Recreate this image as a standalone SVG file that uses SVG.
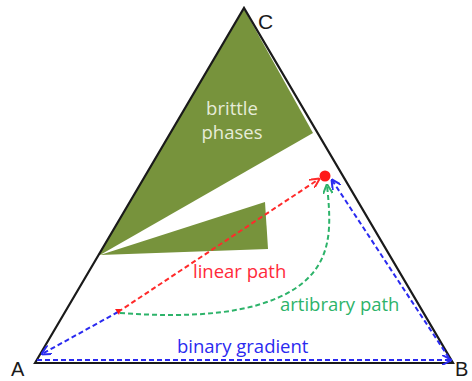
<svg xmlns="http://www.w3.org/2000/svg" width="472" height="381" viewBox="0 0 472 381">
<style>
.lbl{font-family:"Open Sans","Noto Sans","Liberation Sans",sans-serif;font-size:18.5px}
.corner{font-family:"Liberation Sans",Arial,sans-serif;font-size:20px;fill:#1a1a1a}
.ph{fill:#77933C}
.dash{fill:none;stroke-width:2;stroke-dasharray:5,3}
</style>
<defs>
<marker id="ar" viewBox="0 0 10 10" refX="9" refY="5" markerWidth="5" markerHeight="5" orient="auto"><path d="M0,0 L10,5 L0,10" fill="none" stroke="#FF2A2A" stroke-width="2"/></marker>
<marker id="ab" viewBox="0 0 10 10" refX="9" refY="5" markerWidth="5" markerHeight="5" orient="auto"><path d="M0,0 L10,5 L0,10" fill="none" stroke="#2A2AF0" stroke-width="2"/></marker>
<marker id="ag" viewBox="0 0 10 10" refX="9" refY="5" markerWidth="5" markerHeight="5" orient="auto"><path d="M0,0 L10,5 L0,10" fill="none" stroke="#2DB36A" stroke-width="2"/></marker>
</defs>
<g id="phases">
<polygon class="ph" points="244,9 313,133 100,255 98,255"/>
<polygon class="ph" points="100,255 265,202 268,249"/>
<text class="lbl" x="232" y="115" text-anchor="middle" fill="#E6ECD8">brittle</text>
<text class="lbl" x="232" y="139" text-anchor="middle" fill="#E6ECD8">phases</text>
</g>
<g id="triangle">
<path d="M35,363 L244,8 L453,363 Z" fill="none" stroke="#1a1a1a" stroke-width="2.2" stroke-linejoin="miter"/>
</g>
<g id="corner-A"><text class="corner" x="11" y="376">A</text></g>
<g id="corner-B"><text class="corner" x="455" y="376">B</text></g>
<g id="corner-C"><text class="corner" x="258" y="29" style="font-size:21px">C</text></g>
<g id="target"><circle cx="325" cy="176" r="5.5" fill="#FF1A1A"/></g>
<g id="connectors">
<path class="dash" stroke="#FF2A2A" d="M118,312 L319,179" marker-end="url(#ar)"/>
<path class="dash" stroke="#2A2AF0" d="M118,312 L42,354" marker-end="url(#ab)"/>
<path class="dash" stroke="#2A2AF0" d="M37,360 L451,360" marker-end="url(#ab)"/>
<path class="dash" stroke="#2A2AF0" d="M449,358 L332,180" marker-end="url(#ab)"/>
<path class="dash" stroke="#2DB36A" d="M120,313 C190,318 255,315 296,288 C334,262 331,225 327,185" marker-end="url(#ag)"/>
<polygon points="115,309 121,309 119,315" fill="#FF1A1A"/>
</g>
<g id="labels">
<text class="lbl" x="193" y="278" fill="#FF2A3A">linear path</text>
<text class="lbl" x="280" y="311" fill="#2DB36A">artibrary path</text>
<text class="lbl" x="177" y="353" fill="#2A2AF0">binary gradient</text>
</g>
</svg>
